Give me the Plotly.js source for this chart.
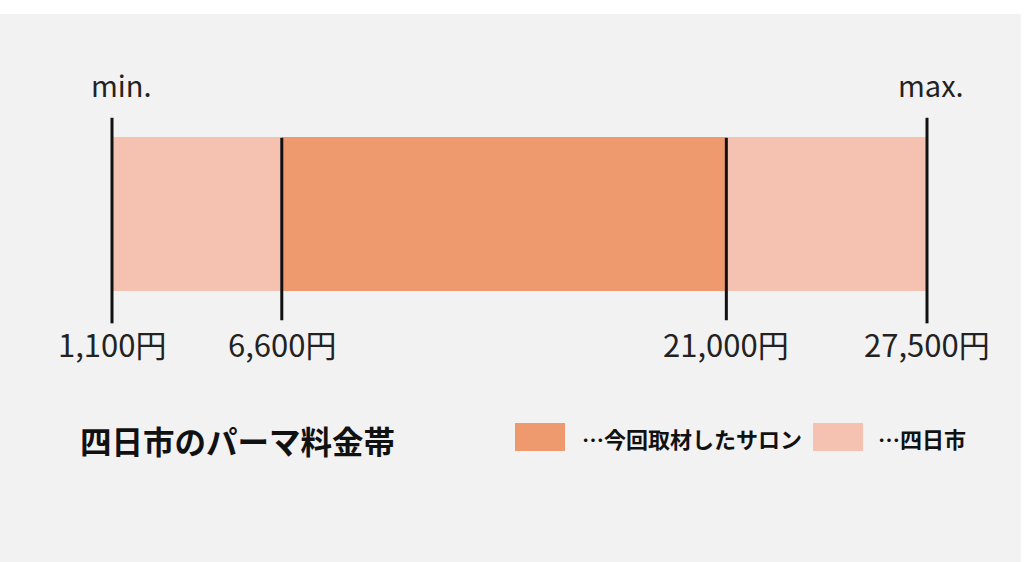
<!DOCTYPE html>
<html>
<head>
<meta charset="utf-8">
<script src="https://cdn.plot.ly/plotly-3.0.1.min.js"></script>
<style>
  html, body { margin: 0; padding: 0; background: #fff; }
  #perm-range { width: 1024px; height: 562px; }
</style>
</head>
<body>
<div id="perm-range"></div>
<script>
// price points (yen)
var prices = [1100, 6600, 21000, 27500];
var priceLabels = ['1,100円', '6,600円', '21,000円', '27,500円'];
var endLabels = ['min.', 'max.'];
var seriesNames = ['…今回取材したサロン', '…四日市'];
var chartTitle = '四日市のパーマ料金帯';

var colours = {
    salon: '#EF996F',
    city: '#F5C2B1'
};

var jpFont = '"Noto Sans CJK JP", "Noto Sans", sans-serif';

// whole city range, light
var trace1 = {
    x: [prices[3] - prices[0]],
    base: [prices[0]],
    y: [0],
    width: [1],
    name: seriesNames[1],
    type: 'bar',
    orientation: 'h',
    hoverinfo: 'skip',
    marker: { color: colours.city, line: { width: 0 } }
};

// interviewed salons, dark
var trace2 = {
    x: [prices[2] - prices[1]],
    base: [prices[1]],
    y: [0],
    width: [1],
    name: seriesNames[0],
    type: 'bar',
    orientation: 'h',
    hoverinfo: 'skip',
    marker: { color: colours.salon, line: { width: 0 } }
};

var data = [trace1, trace2];

var shapes = [
    // grey panel
    { type: 'rect', xref: 'paper', yref: 'paper', x0: 0, x1: 0.997, y0: 0, y1: 0.975,
      fillcolor: '#F2F2F2', line: { width: 0 }, layer: 'below' }
];

// marker lines at each price; outer ones taller
prices.forEach(function (p, i) {
    var outer = (i === 0 || i === prices.length - 1);
    shapes.push({
        type: 'line', xref: 'x', yref: 'y',
        x0: p, x1: p,
        y0: outer ? -0.71 : -0.69,
        y1: outer ? 0.625 : 0.495,
        line: { color: '#111', width: 3 }
    });
});

// legend swatches
shapes.push({ type: 'rect', xref: 'paper', yref: 'paper', x0: 515 / 1024, x1: 565 / 1024,
    y0: 1 - 451 / 562, y1: 1 - 423 / 562, fillcolor: colours.salon, line: { width: 0 } });
shapes.push({ type: 'rect', xref: 'paper', yref: 'paper', x0: 813 / 1024, x1: 863 / 1024,
    y0: 1 - 451 / 562, y1: 1 - 423 / 562, fillcolor: colours.city, line: { width: 0 } });

var annotations = [];

prices.forEach(function (p, i) {
    annotations.push({
        x: p, xref: 'x', y: 1 - 343 / 562, yref: 'paper',
        text: priceLabels[i], showarrow: false,
        xanchor: 'center', yanchor: 'middle',
        font: { family: jpFont, size: 31, color: '#222' }
    });
});

annotations.push({
    x: prices[0], xref: 'x', y: 1 - 84 / 562, yref: 'paper',
    xshift: 9, text: endLabels[0], showarrow: false,
    xanchor: 'center', yanchor: 'middle',
    font: { family: jpFont, size: 29, color: '#222' }
});
annotations.push({
    x: prices[3], xref: 'x', y: 1 - 84 / 562, yref: 'paper',
    xshift: 3, text: endLabels[1], showarrow: false,
    xanchor: 'center', yanchor: 'middle',
    font: { family: jpFont, size: 29, color: '#222' }
});

annotations.push({
    x: 78 / 1024, xref: 'paper', y: 1 - 440 / 562, yref: 'paper',
    xanchor: 'left', yanchor: 'middle',
    text: '<b>' + chartTitle + '</b>', showarrow: false,
    font: { family: jpFont, size: 31.5, color: '#111' }
});
annotations.push({
    x: 580 / 1024, xref: 'paper', y: 1 - 438 / 562, yref: 'paper',
    xanchor: 'left', yanchor: 'middle',
    text: '<b>' + seriesNames[0] + '</b>', showarrow: false,
    font: { family: jpFont, size: 22, color: '#111' }
});
annotations.push({
    x: 876 / 1024, xref: 'paper', y: 1 - 438 / 562, yref: 'paper',
    xanchor: 'left', yanchor: 'middle',
    text: '<b>' + seriesNames[1] + '</b>', showarrow: false,
    font: { family: jpFont, size: 22, color: '#111' }
});

var layout = {
    width: 1024,
    height: 562,
    margin: { l: 0, r: 0, t: 0, b: 0 },
    paper_bgcolor: '#FFFFFF',
    plot_bgcolor: 'rgba(0,0,0,0)',
    barmode: 'overlay',
    showlegend: false,
    xaxis: { range: [-2528, 30642], visible: false, fixedrange: true },
    yaxis: { range: [-2.26, 1.39], visible: false, fixedrange: true },
    shapes: shapes,
    annotations: annotations
};

Plotly.newPlot('perm-range', data, layout, { staticPlot: true, displayModeBar: false });
</script>
</body>
</html>
